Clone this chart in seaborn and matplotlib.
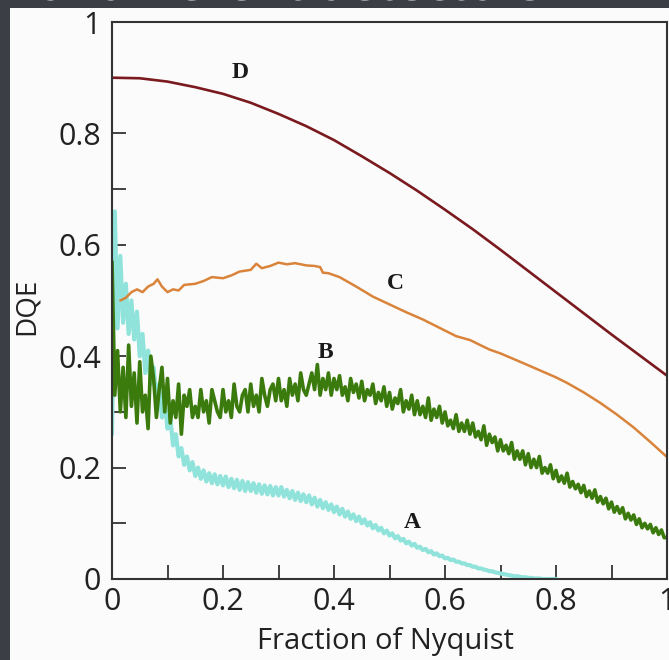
import numpy as np
import pandas as pd
import matplotlib
matplotlib.use("Agg")
import matplotlib.pyplot as plt
from matplotlib.patches import Rectangle
import seaborn as sns

# ---------------- data ----------------
d_x = [0.00, 0.05, 0.10, 0.15, 0.20, 0.25, 0.30, 0.35, 0.40, 0.45, 0.50,
       0.55, 0.60, 0.65, 0.70, 0.75, 0.80, 0.85, 0.90, 0.95, 1.00]
d_y = [0.900, 0.899, 0.893, 0.883, 0.871, 0.855, 0.835, 0.813, 0.788, 0.759, 0.729,
       0.697, 0.663, 0.628, 0.591, 0.553, 0.515, 0.477, 0.439, 0.402, 0.365]

c_x = [0.015, 0.025, 0.035, 0.045, 0.055, 0.065, 0.075, 0.082, 0.090, 0.100,
       0.110, 0.120, 0.130, 0.150, 0.165, 0.180, 0.200, 0.215, 0.230, 0.250,
       0.260, 0.270, 0.285, 0.300, 0.315, 0.330, 0.350, 0.365, 0.375, 0.380,
       0.390, 0.410, 0.440, 0.470, 0.500, 0.530, 0.560, 0.590, 0.620, 0.645,
       0.680, 0.700, 0.740, 0.770, 0.800, 0.820, 0.850, 0.880, 0.910, 0.940,
       0.970, 1.000]
c_y = [0.500, 0.505, 0.515, 0.520, 0.515, 0.525, 0.530, 0.538, 0.525, 0.515,
       0.520, 0.518, 0.528, 0.530, 0.535, 0.542, 0.540, 0.545, 0.552, 0.555,
       0.566, 0.558, 0.562, 0.568, 0.565, 0.567, 0.563, 0.562, 0.560, 0.550,
       0.549, 0.542, 0.525, 0.507, 0.493, 0.479, 0.466, 0.451, 0.436, 0.429,
       0.412, 0.405, 0.388, 0.375, 0.362, 0.352, 0.335, 0.316, 0.295, 0.272,
       0.246, 0.219]

# B: sampled every 0.005 from 0 to 1
b_y = [0.57, 0.33, 0.41, 0.30, 0.38, 0.29, 0.42, 0.31, 0.37, 0.28,
       0.39, 0.30, 0.33, 0.27, 0.40, 0.36, 0.29, 0.34, 0.38, 0.30,
       0.36, 0.28, 0.32, 0.29, 0.35, 0.26, 0.33, 0.31, 0.34, 0.29,
       0.31, 0.29, 0.34, 0.30, 0.32, 0.28, 0.34, 0.32, 0.30, 0.29,
       0.34, 0.30, 0.32, 0.29, 0.35, 0.31, 0.30, 0.33, 0.34, 0.30,
       0.35, 0.31, 0.33, 0.30, 0.36, 0.33, 0.31, 0.34, 0.35, 0.32,
       0.36, 0.32, 0.34, 0.31, 0.36, 0.33, 0.35, 0.32, 0.37, 0.34,
       0.33, 0.35, 0.37, 0.34, 0.385, 0.33, 0.36, 0.34, 0.37, 0.33,
       0.36, 0.34, 0.365, 0.33, 0.345, 0.32, 0.36, 0.335, 0.35, 0.325,
       0.355, 0.32, 0.34, 0.33, 0.35, 0.315, 0.335, 0.32, 0.345, 0.31,
       0.335, 0.305, 0.325, 0.315, 0.34, 0.30, 0.32, 0.305, 0.33, 0.295,
       0.32, 0.295, 0.31, 0.29, 0.325, 0.285, 0.305, 0.29, 0.31, 0.28,
       0.30, 0.275, 0.285, 0.27, 0.295, 0.265, 0.28, 0.265, 0.285, 0.26,
       0.28, 0.255, 0.265, 0.25, 0.275, 0.24, 0.26, 0.245, 0.255, 0.23,
       0.25, 0.23, 0.24, 0.225, 0.245, 0.215, 0.23, 0.215, 0.23, 0.205,
       0.225, 0.20, 0.215, 0.2, 0.22, 0.19, 0.2, 0.19, 0.205, 0.18,
       0.195, 0.175, 0.185, 0.172, 0.19, 0.165, 0.175, 0.162, 0.17, 0.155,
       0.168, 0.148, 0.158, 0.145, 0.16, 0.138, 0.148, 0.135, 0.145, 0.126,
       0.138, 0.12, 0.13, 0.118, 0.128, 0.108, 0.118, 0.106, 0.115, 0.098,
       0.108, 0.092, 0.1, 0.09, 0.098, 0.083, 0.092, 0.08, 0.088, 0.074,
       0.075]

# A: sampled every 0.005 from 0 to 0.8
a_y = [0.26, 0.66, 0.45, 0.58, 0.46, 0.53, 0.44, 0.50, 0.43, 0.48,
       0.40, 0.44, 0.37, 0.41, 0.35, 0.38, 0.32, 0.35, 0.29, 0.32,
       0.27, 0.29, 0.24, 0.26, 0.22, 0.235, 0.205, 0.22, 0.195, 0.21,
       0.185, 0.20, 0.18, 0.195, 0.175, 0.19, 0.172, 0.188, 0.17, 0.185,
       0.168, 0.184, 0.165, 0.18, 0.163, 0.178, 0.16, 0.176, 0.158, 0.174,
       0.158, 0.172, 0.155, 0.17, 0.153, 0.168, 0.152, 0.167, 0.15, 0.165,
       0.15, 0.165, 0.148, 0.16, 0.145, 0.158, 0.142, 0.155, 0.14, 0.152,
       0.138, 0.15, 0.134, 0.146, 0.13, 0.142, 0.127, 0.138, 0.124, 0.134,
       0.12, 0.13, 0.116, 0.126, 0.112, 0.121, 0.108, 0.116, 0.104, 0.112,
       0.10, 0.107, 0.096, 0.102, 0.091, 0.097, 0.087, 0.092, 0.082, 0.087,
       0.078, 0.082, 0.073, 0.077, 0.069, 0.072, 0.064, 0.067, 0.06, 0.063,
       0.056, 0.058, 0.052, 0.054, 0.048, 0.05, 0.044, 0.046, 0.041, 0.042,
       0.037, 0.038, 0.034, 0.035, 0.031, 0.031, 0.028, 0.028, 0.025, 0.025,
       0.022, 0.022, 0.019, 0.019, 0.017, 0.016, 0.014, 0.014, 0.012, 0.011,
       0.01, 0.009, 0.008, 0.007, 0.006, 0.005, 0.005, 0.004, 0.003, 0.003,
       0.002, 0.002, 0.001, 0.001, 0.001, 0.0, 0.0, 0.0, 0.0, 0.0,
       0.0]

b_x = np.linspace(0.0, 1.0, len(b_y))
a_x = np.linspace(0.0, 0.8, len(a_y))

xticks = [0, 0.2, 0.4, 0.6, 0.8, 1]
xticklabels = ["0", "0.2", "0.4", "0.6", "0.8", "1"]
yticks = [0, 0.2, 0.4, 0.6, 0.8, 1]
yticklabels = ["0", "0.2", "0.4", "0.6", "0.8", "1"]

curve_labels = ["D", "C", "B", "A"]
label_pos_x = [0.231, 0.51, 0.384, 0.541]
label_pos_y = [0.910, 0.531, 0.407, 0.102]

# ---------------- styling ----------------
sns.set_theme(style="ticks")
plt.rcParams["font.family"] = ["Open Sans", "DejaVu Sans"]

W, H = 669, 660
fig = plt.figure(figsize=(W / 100, H / 100), dpi=100)
fig.patch.set_facecolor("#3b3e45")

# clipped slide title behind the white panel
fig.text(35 / W, 1 + 1 / H, "of different detectors", color="white",
         fontsize=37, ha="left", va="baseline", zorder=0)

panel = Rectangle((10 / W, 0), 1, (H - 8) / H, transform=fig.transFigure,
                  facecolor="#fbfbfb", edgecolor="none", zorder=1)
fig.patches.append(panel)

ax = fig.add_axes([112 / W, (H - 579) / H, (667 - 112) / W, (579 - 22) / H])
ax.set_zorder(2)
ax.set_facecolor("#fbfbfb")

df_a = pd.DataFrame({"x": a_x, "y": a_y})
df_b = pd.DataFrame({"x": b_x, "y": b_y})
df_c = pd.DataFrame({"x": c_x, "y": c_y})
df_d = pd.DataFrame({"x": d_x, "y": d_y})

sns.lineplot(data=df_a, x="x", y="y", ax=ax, color="#8fe3da", lw=3.0,
             estimator=None, sort=False)
sns.lineplot(data=df_b, x="x", y="y", ax=ax, color="#3b7a0c", lw=2.6,
             estimator=None, sort=False)
sns.lineplot(data=df_c, x="x", y="y", ax=ax, color="#d9843a", lw=1.8,
             estimator=None, sort=False)
sns.lineplot(data=df_d, x="x", y="y", ax=ax, color="#7a1a1f", lw=1.9,
             estimator=None, sort=False)

for lab, lx, ly in zip(curve_labels, label_pos_x, label_pos_y):
    ax.text(lx, ly, lab, ha="center", va="center", fontsize=17,
            fontweight="bold", family=["Liberation Serif", "DejaVu Serif"],
            color="#1a1a1a")

ax.set_xlim(0, 1)
ax.set_ylim(0, 1)
ax.set_xticks(xticks)
ax.set_xticklabels(xticklabels)
ax.set_yticks(yticks)
ax.set_yticklabels(yticklabels)
ax.set_xticks(np.arange(1, 10, 2) / 10, minor=True)
ax.set_yticks(np.arange(1, 10, 2) / 10, minor=True)
ax.tick_params(which="both", direction="in", length=10, width=1.3,
               color="#333333", labelsize=22, labelcolor="#222222")
ax.tick_params(axis="x", which="major", pad=6)
ax.tick_params(axis="y", which="major", pad=8)

for sp in ax.spines.values():
    sp.set_color("#333333")
    sp.set_linewidth(1.5)

ax.set_xlabel("Fraction of Nyquist", fontsize=21, color="#222222", va="center")
ax.set_ylabel("DQE", fontsize=20, color="#222222", va="center")
ax.xaxis.set_label_coords(0.492, -0.112)
ax.yaxis.set_label_coords(-0.153, 0.49)

fig.savefig("out.png", dpi=100, facecolor=fig.get_facecolor())
